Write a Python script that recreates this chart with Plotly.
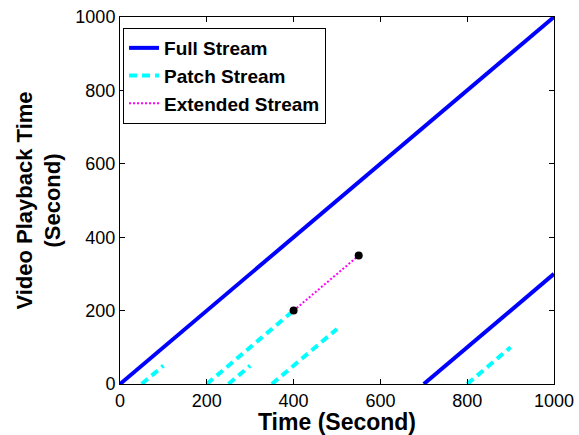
import plotly.graph_objects as go

# Segments as (x_start, y_start, x_end, y_end)
full_segments = [(0, 0, 1000, 1000), (700, 0, 1000, 300)]
patch_segments = [(50, 0, 100, 50), (200, 0, 400, 200), (250, 0, 300, 50),
                  (350, 0, 500, 150), (800, 0, 900, 100)]
extended_segments = [(400, 200, 550, 350)]
dot_x = [400, 550]
dot_y = [200, 350]
tick_vals = [0, 200, 400, 600, 800, 1000]


def seg_xy(segs):
    xs, ys = [], []
    for x0, y0, x1, y1 in segs:
        xs += [x0, x1, None]
        ys += [y0, y1, None]
    return xs, ys


FONT = "Liberation Sans, Arial"

fig = go.Figure()
fx, fy = seg_xy(full_segments)
fig.add_trace(go.Scatter(x=fx, y=fy, mode="lines", name="<b>Full Stream</b>",
                         line=dict(color="#0000ff", width=4)))
px_, py_ = seg_xy(patch_segments)
fig.add_trace(go.Scatter(x=px_, y=py_, mode="lines", name="<b>Patch Stream</b>",
                         line=dict(color="#00ffff", width=4, dash="8px,5px")))
ex, ey = seg_xy(extended_segments)
fig.add_trace(go.Scatter(x=ex, y=ey, mode="lines", name="<b>Extended Stream</b>",
                         line=dict(color="#ff00ff", width=2, dash="2px,2px")))
fig.add_trace(go.Scatter(x=dot_x, y=dot_y, mode="markers", showlegend=False,
                         marker=dict(color="black", size=8)))

axis_common = dict(
    showgrid=False, zeroline=False, showline=True, linecolor="black", linewidth=1,
    mirror="ticks", ticks="inside", ticklen=5, tickcolor="black",
    tickfont=dict(family=FONT, size=18, color="black"),
    range=[0, 1000], tickvals=tick_vals, automargin=False,
)

fig.update_layout(
    width=579, height=435,
    margin=dict(l=120, r=25, t=17, b=51),
    plot_bgcolor="white", paper_bgcolor="white",
    xaxis=dict(**axis_common,
               title=dict(text="<b>Time (Second)</b>", standoff=6,
                          font=dict(family=FONT, size=23, color="black"))),
    yaxis=dict(**axis_common,
               title=dict(text="<b>Video Playback Time<br>(Second)</b>", standoff=8,
                          font=dict(family=FONT, size=22, color="black"))),
    legend=dict(x=0.007, y=0.97, xanchor="left", yanchor="top",
                bordercolor="black", borderwidth=1, bgcolor="white",
                font=dict(family=FONT, size=19, color="black"),
                tracegroupgap=0),
    showlegend=True,
)

fig.write_html("out.html", config={"displayModeBar": False},
               post_script="document.body.style.margin='0';document.body.style.overflow='hidden';")
